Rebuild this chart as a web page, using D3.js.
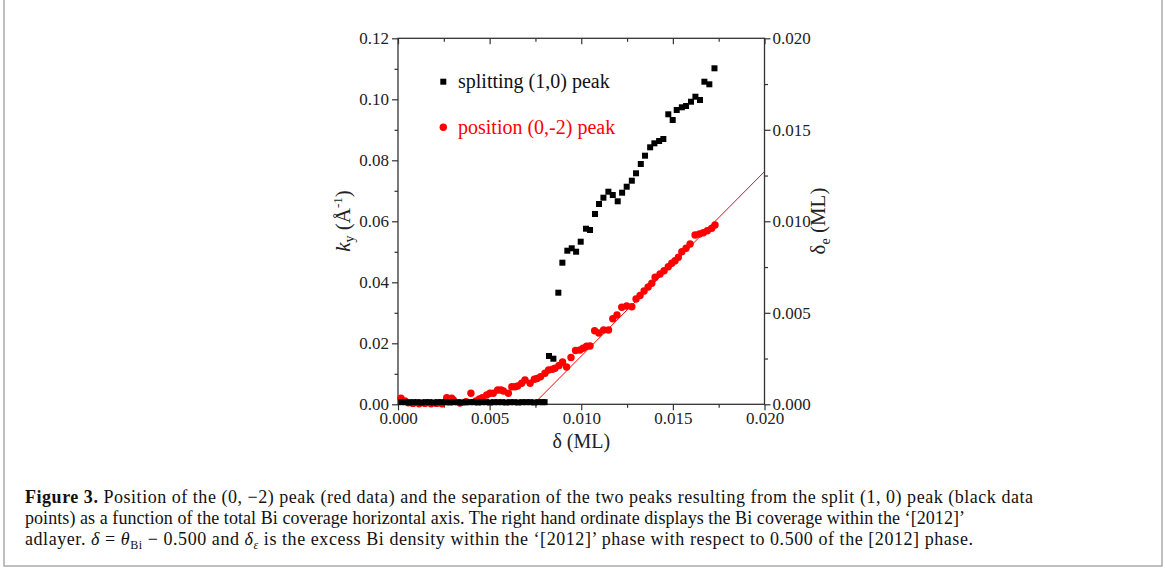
<!DOCTYPE html>
<html lang="en">
<head>
<meta charset="UTF-8">
<title>Figure 3</title>
<script src="https://d3js.org/d3.v7.min.js"></script>
<style>
  body { margin: 0; background: #fff; }
  svg { display: block; font-family: "Liberation Serif", "Times New Roman", serif; }
  .tick line { stroke: #333; }
</style>
</head>
<body>
<div id="chart"></div>
<script>
// splitting of the (1,0) peak (black squares)
const splitDelta = [0.00018, 0.00040, 0.00062, 0.00083, 0.00106, 0.00128, 0.00150, 0.00171, 0.00194, 0.00216,
  0.00238, 0.00260, 0.00282, 0.00304, 0.00326, 0.00348, 0.00370, 0.00392, 0.00414, 0.00436,
  0.00458, 0.00480, 0.00502, 0.00524, 0.00546, 0.00568, 0.00590, 0.00612, 0.00634, 0.00656,
  0.00678, 0.00700, 0.00722, 0.00744, 0.00766, 0.00788, 0.00800,
  0.00824, 0.00848, 0.00875, 0.00897, 0.00924, 0.00948, 0.00972, 0.00997, 0.01026, 0.01048,
  0.01075, 0.01097, 0.01121, 0.01148, 0.01172, 0.01199, 0.01223, 0.01248, 0.01276, 0.01299,
  0.01325, 0.01348, 0.01376, 0.01399, 0.01425, 0.01448, 0.01475, 0.01499, 0.01521, 0.01549,
  0.01572, 0.01599, 0.01623, 0.01648, 0.01672, 0.01699, 0.01727];
const splitKy = [0.0007, 0.0007, 0.0006, 0.0007, 0.0007, 0.0006, 0.0007, 0.0007, 0.0006, 0.0007,
  0.0007, 0.0007, 0.0006, 0.0007, 0.0007, 0.0006, 0.0007, 0.0007, 0.0007, 0.0006,
  0.0007, 0.0007, 0.0006, 0.0007, 0.0007, 0.0007, 0.0006, 0.0007, 0.0007, 0.0006,
  0.0007, 0.0007, 0.0007, 0.0006, 0.0007, 0.0007, 0.0007,
  0.01584, 0.01495, 0.03659, 0.04643, 0.05036, 0.05115, 0.05003, 0.05331, 0.05757, 0.05715,
  0.06239, 0.06567, 0.06774, 0.06970, 0.06862, 0.06656, 0.06938, 0.07134, 0.07331, 0.07574,
  0.07879, 0.08151, 0.08426, 0.08557, 0.08633, 0.08698, 0.09508, 0.09321, 0.09649, 0.09738,
  0.09780, 0.09921, 0.10085, 0.09977, 0.10577, 0.10492, 0.11016];

// position of the (0,-2) peak (red circles)
const posDelta = [0.00016, 0.00038, 0.00056, 0.00082, 0.00115, 0.00147, 0.00180, 0.00210, 0.00240,
  0.00266, 0.00293, 0.00302, 0.00338, 0.00371, 0.00398, 0.00426, 0.00444, 0.00460, 0.00484,
  0.00502, 0.00520, 0.00544, 0.00562, 0.00575, 0.00602, 0.00621, 0.00639, 0.00653, 0.00675,
  0.00693, 0.00721, 0.00744, 0.00759, 0.00778, 0.00802, 0.00822, 0.00843, 0.00857, 0.00879,
  0.00898, 0.00920, 0.00944, 0.00969, 0.00993, 0.01010, 0.01029, 0.01048, 0.01073, 0.01096,
  0.01122, 0.01149, 0.01172, 0.01195, 0.01221, 0.01248, 0.01276, 0.01299, 0.01321, 0.01343,
  0.01365, 0.01385, 0.01403, 0.01430, 0.01452, 0.01475, 0.01494, 0.01512, 0.01530, 0.01549,
  0.01572, 0.01594, 0.01621, 0.01645, 0.01666, 0.01688, 0.01712, 0.01730];
const posKy = [0.00197, 0.00108, 0.00052, 0.0003, 0.0002, 0.0003, 0.0002, 0.0003, 0.0002,
  0.00216, 0.00197, 0.00141, 0.0004, 0.00085, 0.00361, 0.00108, 0.00174, 0.00216, 0.00305,
  0.00361, 0.00361, 0.00469, 0.00469, 0.00436, 0.00361, 0.00577, 0.00577, 0.00600, 0.00689,
  0.00797, 0.00689, 0.00820, 0.00846, 0.00905, 0.01016, 0.01125, 0.01148, 0.01180, 0.01272,
  0.01387, 0.01223, 0.01534, 0.01764, 0.01780, 0.01836, 0.01902, 0.01911, 0.02410, 0.02338,
  0.02436, 0.02436, 0.02803, 0.02928, 0.03180, 0.03223, 0.03200, 0.03452, 0.03567, 0.03715,
  0.03846, 0.03967, 0.04164, 0.04272, 0.04380, 0.04511, 0.04623, 0.04708, 0.04820, 0.05003,
  0.05115, 0.05256, 0.05551, 0.05584, 0.05626, 0.05692, 0.05770, 0.05879];

// linear fit through the red data
const fitDelta = [0.00739, 0.0200];
const fitKy = [0, 0.0763];

// ticks
const xTicks = [0, 0.005, 0.010, 0.015, 0.020];
const xMinor = [0.0025, 0.0075, 0.0125, 0.0175];
const yTicks = [0, 0.02, 0.04, 0.06, 0.08, 0.10, 0.12];
const yMinor = [0.01, 0.03, 0.05, 0.07, 0.09, 0.11];
const y2Ticks = [0, 0.005, 0.010, 0.015, 0.020];
const y2Minor = [0.0025, 0.0075, 0.0125, 0.0175];

const legendLabels = ["splitting (1,0) peak", "position (0,-2) peak"];

const W = 1165, H = 573;
const plot = { left: 398, top: 38.3, width: 366.5, height: 366 };

const svg = d3.select("#chart").append("svg")
  .attr("width", W)
  .attr("height", H);

// outer frame of the figure
svg.append("rect")
  .attr("x", 4).attr("y", -5)
  .attr("width", 1158).attr("height", 571)
  .attr("fill", "none")
  .attr("stroke", "#aaa")
  .attr("stroke-width", 1.5);

const x = d3.scaleLinear().domain([0, 0.02]).range([plot.left, plot.left + plot.width]);
const y = d3.scaleLinear().domain([0, 0.12]).range([plot.top + plot.height, plot.top]);
const y2 = d3.scaleLinear().domain([0, 0.02]).range([plot.top + plot.height, plot.top]);

const bottom = plot.top + plot.height;
const right = plot.left + plot.width;

function addAxis(axis, tx, ty) {
  const g = svg.append("g").attr("transform", `translate(${tx},${ty})`).call(axis);
  g.select(".domain").remove();
  g.attr("font-family", "'Liberation Serif', serif").attr("font-size", 17);
  g.selectAll(".tick text").attr("fill", "#222");
  return g;
}

// major ticks with labels
addAxis(d3.axisLeft(y).tickValues(yTicks).tickSize(6).tickPadding(3).tickFormat(d3.format(".2f")), plot.left, 0);
addAxis(d3.axisBottom(x).tickValues(xTicks).tickSize(6).tickPadding(2).tickFormat(d3.format(".3f")), 0, bottom);
addAxis(d3.axisRight(y2).tickValues(y2Ticks).tickSize(6).tickPadding(2).tickFormat(d3.format(".3f")), right, 0);
addAxis(d3.axisTop(x).tickValues(xTicks).tickSize(-6).tickFormat(""), 0, plot.top);

// minor ticks
addAxis(d3.axisLeft(y).tickValues(yMinor).tickSize(3.5).tickFormat(""), plot.left, 0);
addAxis(d3.axisBottom(x).tickValues(xMinor).tickSize(3.5).tickFormat(""), 0, bottom);
addAxis(d3.axisRight(y2).tickValues(y2Minor).tickSize(3.5).tickFormat(""), right, 0);
addAxis(d3.axisTop(x).tickValues(xMinor).tickSize(-3.5).tickFormat(""), 0, plot.top);

svg.selectAll(".tick line").attr("stroke-width", 1.2);

// plot frame
svg.append("rect")
  .attr("x", plot.left).attr("y", plot.top)
  .attr("width", plot.width).attr("height", plot.height)
  .attr("fill", "none")
  .attr("stroke", "#333")
  .attr("stroke-width", 1.3);

// fit line
const fitData = fitDelta.map((d, i) => ({ d: d, k: fitKy[i] }));
svg.append("path")
  .datum(fitData)
  .attr("fill", "none")
  .attr("stroke", "#f00")
  .attr("stroke-width", 1)
  .attr("d", d3.line().x(p => x(p.d)).y(p => y(p.k)));

// red circles
svg.append("g").selectAll("circle")
  .data(posDelta.map((d, i) => ({ d: d, k: posKy[i] })))
  .join("circle")
  .attr("cx", p => x(p.d))
  .attr("cy", p => y(p.k))
  .attr("r", 3.7)
  .attr("fill", "#f00");

// black squares
const sq = 6;
svg.append("g").selectAll("rect")
  .data(splitDelta.map((d, i) => ({ d: d, k: splitKy[i] })))
  .join("rect")
  .attr("x", p => x(p.d) - sq / 2)
  .attr("y", p => y(p.k) - sq / 2)
  .attr("width", sq)
  .attr("height", sq)
  .attr("fill", "#000");

// legend
const legend = svg.append("g");
legend.append("rect")
  .attr("x", 443.3 - 3).attr("y", 81.7 - 3)
  .attr("width", 6).attr("height", 6)
  .attr("fill", "#000");
legend.append("text")
  .attr("x", 458).attr("y", 88)
  .attr("font-size", 20)
  .attr("fill", "#111")
  .text(legendLabels[0]);
legend.append("circle")
  .attr("cx", 443.3).attr("cy", 127.3)
  .attr("r", 3.7)
  .attr("fill", "#f00");
legend.append("text")
  .attr("x", 458).attr("y", 134)
  .attr("font-size", 20)
  .attr("fill", "#f00")
  .text(legendLabels[1]);

// axis titles
svg.append("text")
  .attr("x", (plot.left + right) / 2).attr("y", 448)
  .attr("text-anchor", "middle")
  .attr("font-size", 20)
  .attr("fill", "#222")
  .text("\u03b4 (ML)");

const yl = svg.append("text")
  .attr("transform", "translate(350,221) rotate(-90)")
  .attr("text-anchor", "middle")
  .attr("font-size", 21)
  .attr("fill", "#222");
yl.append("tspan").attr("font-style", "italic").text("k");
yl.append("tspan").attr("font-size", 14).attr("dy", 4).text("y");
yl.append("tspan").attr("dy", -4).text(" (\u00c5");
yl.append("tspan").attr("font-size", 13).attr("dy", -8).text("-1");
yl.append("tspan").attr("dy", 8).text(")");

const y2l = svg.append("text")
  .attr("transform", "translate(825,221) rotate(-90)")
  .attr("text-anchor", "middle")
  .attr("font-size", 21)
  .attr("fill", "#222");
y2l.append("tspan").text("\u03b4");
y2l.append("tspan").attr("font-size", 14).attr("dy", 5).text("e");
y2l.append("tspan").attr("dy", -5).text(" (ML)");

// caption
const cap = svg.append("g").attr("font-size", 18).attr("fill", "#111");
const l1 = cap.append("text").attr("x", 25).attr("y", 503)
  .attr("textLength", 1008).attr("lengthAdjust", "spacing");
l1.append("tspan").attr("font-weight", "bold").text("Figure 3.");
l1.append("tspan").text(" Position of the (0, \u22122) peak (red data) and the separation of the two peaks resulting from the split (1, 0) peak (black data");

cap.append("text").attr("x", 25).attr("y", 524)
  .attr("textLength", 940).attr("lengthAdjust", "spacing")
  .text("points) as a function of the total Bi coverage horizontal axis. The right hand ordinate displays the Bi coverage within the \u2018[2012]\u2019");

const l3 = cap.append("text").attr("x", 25).attr("y", 545)
  .attr("textLength", 948).attr("lengthAdjust", "spacing");
l3.append("tspan").text("adlayer. ");
l3.append("tspan").attr("font-style", "italic").text("\u03b4");
l3.append("tspan").text(" = ");
l3.append("tspan").attr("font-style", "italic").text("\u03b8");
l3.append("tspan").attr("font-size", 12).attr("dy", 4).text("Bi");
l3.append("tspan").attr("dy", -4).text(" \u2212 0.500 and ");
l3.append("tspan").attr("font-style", "italic").text("\u03b4");
l3.append("tspan").attr("font-size", 12).attr("font-style", "italic").attr("dy", 4).text("\u03b5");
l3.append("tspan").attr("dy", -4).text(" is the excess Bi density within the \u2018[2012]\u2019 phase with respect to 0.500 of the [2012] phase.");
</script>
</body>
</html>
